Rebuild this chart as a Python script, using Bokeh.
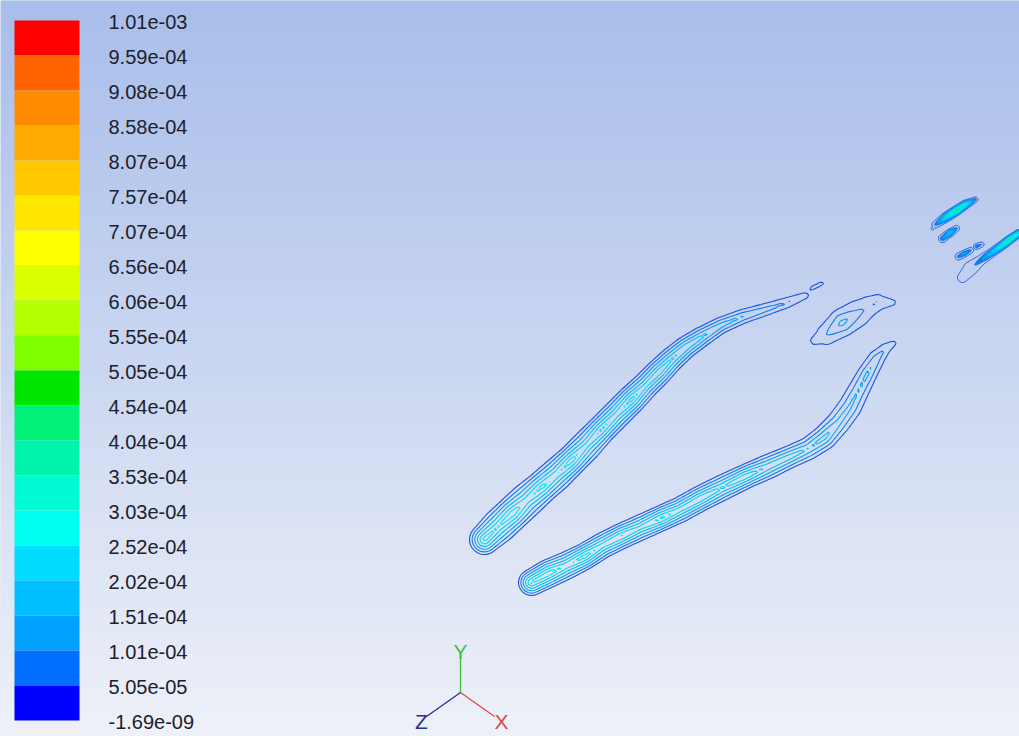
import numpy as np
from bokeh.plotting import figure
from bokeh.models import Range1d
from bokeh.embed import file_html
from bokeh.resources import INLINE
from bokeh.core.properties import value

# ---------------- data ----------------
# colour-bar labels, top to bottom
LEVEL_LABELS = ["1.01e-03", "9.59e-04", "9.08e-04", "8.58e-04", "8.07e-04",
                "7.57e-04", "7.07e-04", "6.56e-04", "6.06e-04", "5.55e-04",
                "5.05e-04", "4.54e-04", "4.04e-04", "3.53e-04", "3.03e-04",
                "2.52e-04", "2.02e-04", "1.51e-04", "1.01e-04", "5.05e-05",
                "-1.69e-09"]
# contour level values, bottom to top
LEVEL_VALUES = [-1.69e-09, 5.05e-05, 1.01e-04, 1.51e-04, 2.02e-04, 2.52e-04,
                3.03e-04, 3.53e-04, 4.04e-04, 4.54e-04, 5.05e-04, 5.55e-04,
                6.06e-04, 6.56e-04, 7.07e-04, 7.57e-04, 8.07e-04, 8.58e-04,
                9.08e-04, 9.59e-04, 1.01e-03]
# band colours, bottom (lowest) to top (highest)
BAND_COLORS = ["#0000ff", "#006eff", "#00a0ff", "#00beff", "#00dcff",
               "#00fff0", "#00fad2", "#00f5aa", "#00f078", "#00e600",
               "#80ff00", "#b4ff00", "#dcff00", "#ffff00", "#ffe600",
               "#ffc800", "#ffaa00", "#ff8c00", "#ff6400", "#ff0000"]
# colours of the contour lines as they appear, level 5.05e-05 upward
LINE_COLORS = ["#1a52dc", "#0c7aee", "#04a0f4", "#00bcf4", "#00d4f2",
               "#00e6ee", "#00eee0", "#00f0b0", "#00ec80", "#10e040"]

# contour features: centre-line x, y, half width of outer contour, peak value
A_X = [484, 498, 512, 526, 541, 556, 571, 586, 601, 616, 631, 645, 658, 671,
       685, 700, 720, 742, 765, 787, 805]
A_Y = [539, 526, 513, 500, 487, 474, 460, 445, 429, 414, 399, 385, 372, 359,
       347, 337, 325, 316, 309, 302, 295]
A_W = [15, 17, 17, 17, 16, 16, 15, 15, 14, 14, 14, 13, 13, 12, 11, 10, 8, 7,
       6, 5, 3]
A_P = [3.4e-4, 3.1e-4, 3.5e-4, 2.9e-4, 3.3e-4, 3.0e-4, 3.4e-4, 2.8e-4, 3.2e-4,
       2.9e-4, 3.3e-4, 2.8e-4, 3.0e-4, 2.7e-4, 2.6e-4, 2.3e-4, 1.9e-4, 1.6e-4,
       1.3e-4, 1.1e-4, 0.7e-4]

B_X = [531, 548, 566, 584, 602, 620, 640, 660, 680, 700, 722, 745, 768, 790,
       808, 824, 838, 849, 858, 867, 876, 885, 893]
B_Y = [582, 573, 565, 556, 545, 536, 527, 518, 509, 498, 487, 476, 466, 456,
       448, 437, 422, 407, 390, 373, 358, 348, 343]
B_W = [13, 14, 13.5, 13, 12.5, 12.5, 12.5, 12.5, 12.5, 12.5, 12.5, 12, 12, 11,
       11, 12, 11.5, 11.5, 10.5, 9.5, 8, 5, 2.5]
B_P = [3.3e-4, 3.5e-4, 3.0e-4, 3.4e-4, 2.9e-4, 3.2e-4, 2.8e-4, 3.3e-4, 2.9e-4,
       3.1e-4, 2.7e-4, 3.0e-4, 2.5e-4, 2.4e-4, 2.1e-4, 2.3e-4, 1.8e-4, 1.7e-4,
       1.6e-4, 1.7e-4, 1.4e-4, 1.0e-4, 0.7e-4]

C_X = [814, 826, 842, 857, 868, 877, 892]
C_Y = [340, 334, 322, 313, 306, 302, 302]
C_W = [4, 10, 14, 13, 10, 8, 3]
C_P = [0.6e-4, 1.05e-4, 1.75e-4, 1.2e-4, 0.95e-4, 1.12e-4, 0.6e-4]

M_X = [811, 821]
M_Y = [288, 283]
M_W = [1.8, 1.8]
M_P = [0.7e-4, 0.7e-4]

D1_X = [935, 945, 956, 965, 975]
D1_Y = [224, 217, 210, 204, 199]
D1_W = [3.5, 5, 5, 4.5, 2.5]
D1_P = [1.2e-4, 3.0e-4, 4.9e-4, 3.8e-4, 1.3e-4]

D2_X = [932, 942, 950, 956]
D2_Y = [228, 238, 232, 228]
D2_W = [1.5, 4, 4, 3]
D2_P = [0.8e-4, 1.6e-4, 2.6e-4, 1.2e-4]
D2_BREAK = 1  # first point is an isolated dot

D3_X = [958, 964, 970]
D3_Y = [256, 253, 250]
D3_W = [3.5, 3.5, 3]
D3_P = [1.3e-4, 1.9e-4, 1.2e-4]

D4_X = [976, 981]
D4_Y = [246, 244]
D4_W = [3, 2.5]
D4_P = [1.5e-4, 1.1e-4]

D5_X = [962, 970, 980, 990, 1000, 1008, 1018]
D5_Y = [277, 268, 260, 253, 246, 240, 233]
D5_W = [5, 7, 5, 4.5, 4.5, 4.5, 4]
D5_P = [0.7e-4, 0.75e-4, 1.4e-4, 2.4e-4, 3.5e-4, 4.8e-4, 3.6e-4]

AXIS_NAMES = ["X", "Y", "Z"]
AXIS_COLORS = ["#d84a4a", "#3cc43c", "#2a2aa8"]

# ---------------- field helper ----------------
L1 = LEVEL_VALUES[1]


def tube_field(X, Y, xs, ys, ws, ps, start=0):
    F = np.zeros_like(X)
    xs = np.asarray(xs, float); ys = np.asarray(ys, float)
    ws = np.asarray(ws, float); ps = np.asarray(ps, float)
    n = len(xs)
    segs = [(i, i + 1) for i in range(start, n - 1)] or [(start, start)]
    for i, j in segs:
        dx, dy = xs[j] - xs[i], ys[j] - ys[i]
        ll = dx * dx + dy * dy
        if ll == 0:
            t = np.zeros_like(X)
        else:
            t = np.clip(((X - xs[i]) * dx + (Y - ys[i]) * dy) / ll, 0, 1)
        d = np.hypot(X - (xs[i] + t * dx), Y - (ys[i] + t * dy))
        h = ws[i] + t * (ws[j] - ws[i])
        pk = ps[i] + t * (ps[j] - ps[i])
        v = L1 + (pk - L1) * (1 - d / h)
        F = np.maximum(F, np.clip(v, 0, None))
    return F


# ---------------- figure ----------------
p = figure(width=1019, height=736, x_range=Range1d(0, 1019), y_range=Range1d(736, 0),
           output_backend="svg", toolbar_location=None, min_border=0,
           x_axis_type=None, y_axis_type=None)
p.grid.visible = False
p.outline_line_color = None
p.background_fill_color = "#d0d9f0"
p.border_fill_color = "#d0d9f0"

# background gradient
top_c = np.array([168, 189, 234])
bot_c = np.array([238, 241, 248])
n_strips = 92
edges = np.linspace(0, 736, n_strips + 1)
cols = []
for k in range(n_strips):
    f = (0.5 * (edges[k] + edges[k + 1])) / 736.0
    c = (top_c + (bot_c - top_c) * f).round().astype(int)
    cols.append("#%02x%02x%02x" % tuple(c))
p.quad(left=0, right=1019, top=edges[:-1] - 0.6, bottom=edges[1:] + 0.6,
       fill_color=cols, line_color=None)

# colour bar
nb = len(BAND_COLORS)
k = np.arange(nb)
p.quad(left=14, right=79, top=20 + 35 * k, bottom=55 + 35 * k,
       fill_color=BAND_COLORS[::-1], line_color=None)
p.text(x=[108] * len(LEVEL_LABELS), y=list(21.5 + 35 * np.arange(len(LEVEL_LABELS))),
       text=LEVEL_LABELS, text_font=value("Liberation Sans"), text_font_size="20px",
       text_color="#20202c", text_baseline="middle", text_align="left")

# main contours (lines)
gx = np.arange(462, 910, 3.0)
gy = np.arange(268, 608, 3.0)
GX, GY = np.meshgrid(gx, gy)
Z = np.maximum.reduce([
    tube_field(GX, GY, A_X, A_Y, A_W, A_P),
    tube_field(GX, GY, B_X, B_Y, B_W, B_P),
    tube_field(GX, GY, C_X, C_Y, C_W, C_P),
    tube_field(GX, GY, M_X, M_Y, M_W, M_P),
])
line_levels = LEVEL_VALUES[1:8]
p.contour(gx, gy, Z, line_levels, line_color=LINE_COLORS[0:7], line_width=1.1,
          fill_color=None)

# upper-right small blobs (dense, filled look)
hx = np.arange(922, 1019, 0.7)
hy = np.arange(188, 290, 0.7)
HX, HY = np.meshgrid(hx, hy)
ZD = np.maximum.reduce([
    tube_field(HX, HY, D1_X, D1_Y, D1_W, D1_P),
    tube_field(HX, HY, D2_X[:D2_BREAK], D2_Y[:D2_BREAK], D2_W[:D2_BREAK], D2_P[:D2_BREAK]),
    tube_field(HX, HY, D2_X, D2_Y, D2_W, D2_P, start=D2_BREAK),
    tube_field(HX, HY, D3_X, D3_Y, D3_W, D3_P),
    tube_field(HX, HY, D4_X, D4_Y, D4_W, D4_P),
    tube_field(HX, HY, D5_X, D5_Y, D5_W, D5_P),
])
fill_levels = LEVEL_VALUES[2:11]
p.contour(hx, hy, ZD, fill_levels, fill_color=LINE_COLORS[1:9], line_color=None)
p.contour(hx, hy, ZD, LEVEL_VALUES[1:11], line_color=LINE_COLORS[0:10], line_width=1,
          fill_color=None)

# axis triad
ox, oy = 460, 692
p.segment(x0=[ox, ox, ox], y0=[oy, oy, oy], x1=[494, 460, 426], y1=[716, 655, 716],
          line_color=AXIS_COLORS, line_width=1.3)
p.text(x=[501, 460, 421], y=[721, 651, 721], text=AXIS_NAMES,
       text_font=value("Liberation Sans"), text_font_size="21px",
       text_color=AXIS_COLORS, text_baseline="middle", text_align="center")

open("out.html", "w").write(file_html(p, INLINE))
